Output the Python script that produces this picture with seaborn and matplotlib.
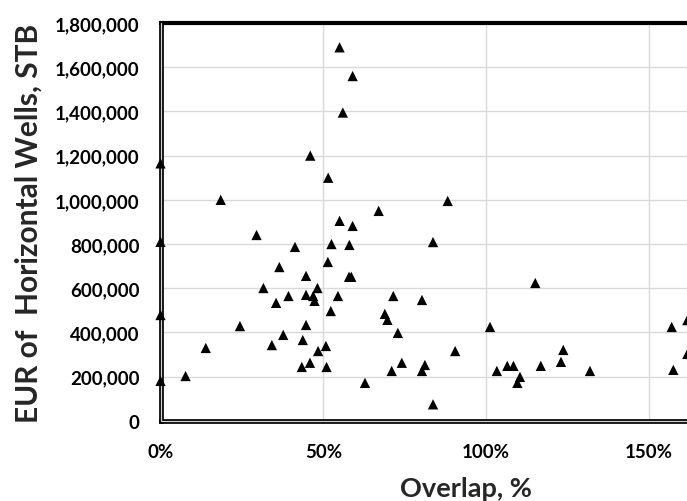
import matplotlib
matplotlib.use("Agg")
import matplotlib.pyplot as plt
import matplotlib.transforms as mtransforms
from matplotlib.lines import Line2D
from matplotlib.ticker import FuncFormatter, PercentFormatter
import pandas as pd
import seaborn as sns

# Well spacing overlap (%) versus EUR of horizontal wells (STB)
overlap_pct = [
    55.0, 59.0, 56.0, 0.0, 46.0, 51.5, 18.5, 67.0, 55.0, 59.0,
    29.5, 0.0, 52.5, 58.0, 41.3, 51.4, 36.5, 44.7, 57.9, 58.6,
    31.6, 48.2, 44.7, 46.9, 39.3, 54.5, 47.3, 35.5, 71.5, 80.3,
    52.3, 0.0, 68.9, 69.7, 24.4, 44.7, 72.9, 37.7, 43.7, 34.2,
    50.8, 13.9, 48.4, 45.9, 74.1, 43.4, 51.0, 71.0, 80.3, 81.2,
    7.7, 0.0, 62.8, 88.2, 83.7, 115.1, 101.2, 90.5, 83.7, 103.3,
    106.5, 108.4, 110.4, 109.6, 116.8, 123.7, 123.0, 131.9, 157.0, 157.5,
    161.8, 161.8,
]
eur_stb = [
    1690000, 1560000, 1395000, 1165000, 1200000, 1100000, 1000000, 950000, 905000, 882000,
    841000, 810000, 800000, 796000, 787000, 719000, 696000, 656000, 652000, 652000,
    601000, 601000, 570000, 565000, 565000, 565000, 543000, 534000, 565000, 547000,
    497000, 479000, 484000, 457000, 429000, 434000, 398000, 389000, 366000, 343000,
    339000, 330000, 316000, 263000, 263000, 244000, 244000, 226000, 226000, 253000,
    203000, 181000, 172000, 995000, 809000, 624000, 425000, 316000, 75000, 226000,
    249000, 249000, 199000, 172000, 249000, 321000, 267000, 226000, 425000, 231000,
    456000, 303000,
]
x_ticks = [0, 50, 100, 150]
y_ticks = [0, 200000, 400000, 600000, 800000, 1000000, 1200000, 1400000, 1600000, 1800000]

df = pd.DataFrame({"overlap": overlap_pct, "eur": eur_stb})

sns.set_style("white")
plt.rcParams["font.family"] = ["Lato", "DejaVu Sans"]
plt.rcParams["font.weight"] = "bold"

W, H = 687, 502
fig = plt.figure(figsize=(W / 100, H / 100), dpi=100)
fig.patch.set_facecolor("white")

x_max = 190
px_per_pct = 3.256
left_px, top_px, bottom_px = 160.5, 24.0, 421.9
ax = fig.add_axes([
    left_px / W,
    1 - bottom_px / H,
    x_max * px_per_pct / W,
    (bottom_px - top_px) / H,
])

sns.scatterplot(
    data=df, x="overlap", y="eur", ax=ax,
    marker="^", s=55, color="black", edgecolor="none", linewidth=0,
    zorder=5, clip_on=False, legend=False,
)

ax.set_xlim(0, x_max)
ax.set_ylim(0, 1800000)
ax.set_xticks(x_ticks)
ax.set_yticks(y_ticks)
ax.xaxis.set_major_formatter(PercentFormatter(100, decimals=0))
ax.yaxis.set_major_formatter(FuncFormatter(lambda v, p: f"{v:,.0f}"))

ax.grid(True, color="#d9d9d9", linewidth=1.0, zorder=0)
ax.set_axisbelow(True)

ax.tick_params(axis="both", length=0, labelsize=13.5, colors="black")
ax.tick_params(axis="y", pad=15)
ax.tick_params(axis="x", pad=16)
for lbl in ax.get_xticklabels() + ax.get_yticklabels():
    lbl.set_fontweight("bold")

# Frame: thick top/right, double rule on left and bottom
for side in ("top", "right"):
    ax.spines[side].set_linewidth(3.0)
    ax.spines[side].set_color("black")
for side in ("left", "bottom"):
    ax.spines[side].set_linewidth(3.4)
    ax.spines[side].set_color("black")
    ax.spines[side].set_zorder(3)
inner = Line2D([0, 0, 1], [1, 0, 0], transform=ax.transAxes, color="#d0d0d0",
               linewidth=0.9, solid_joinstyle="miter", clip_on=False, zorder=4)
ax.add_line(inner)

ax.set_ylabel("EUR of  Horizontal Wells, STB", fontsize=21.5, fontweight="bold")
ax.set_xlabel("Overlap, %", fontsize=19.5, fontweight="bold")
ax.yaxis.set_label_coords(43 / W, 0.5,
                          transform=mtransforms.blended_transform_factory(fig.transFigure, ax.transAxes))
ax.xaxis.set_label_coords(466 / W, 1 - 477 / H, transform=fig.transFigure)

fig.savefig("out.png", dpi=100, facecolor="white")
